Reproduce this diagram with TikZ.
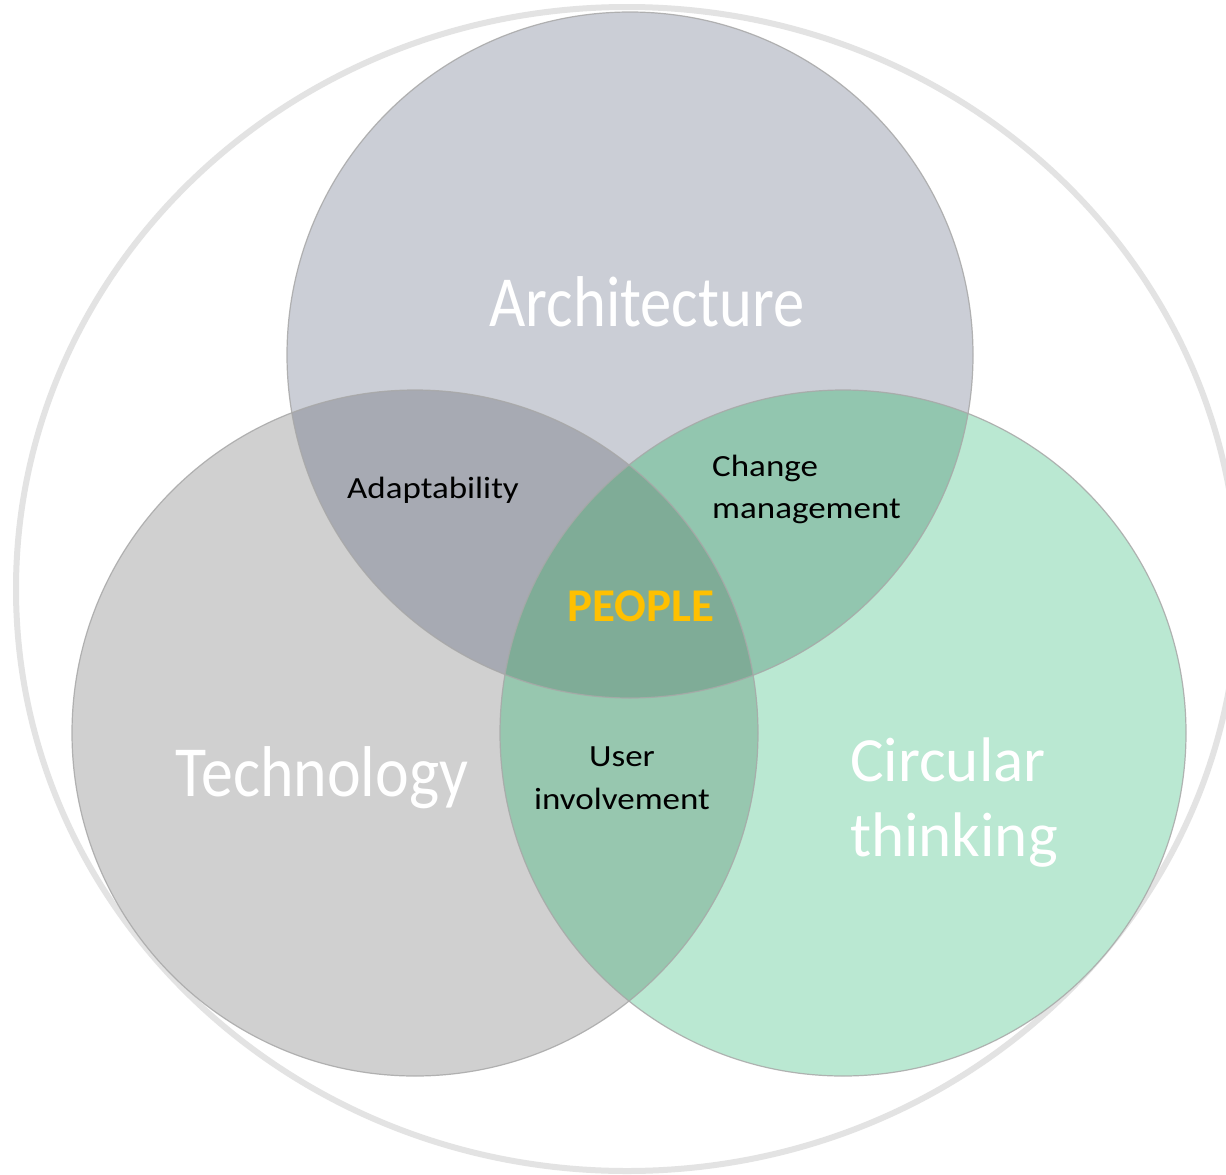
\documentclass[tikz,border=0pt]{standalone}
\usepackage{fontspec}
\setmainfont{Carlito}
\usepackage{graphicx}
\definecolor{ringcol}{HTML}{E3E3E3}
\definecolor{colA}{HTML}{CBCED6}
\definecolor{colT}{HTML}{D0D0D0}
\definecolor{colC}{HTML}{BAE8D2}
\definecolor{colAT}{HTML}{A7AAB3}
\definecolor{colAC}{HTML}{92C6AF}
\definecolor{colTC}{HTML}{97C7AF}
\definecolor{colATC}{HTML}{7FAC97}
\definecolor{edgecol}{HTML}{A8A8A8}
\definecolor{gold}{HTML}{FFC000}
\tikzset{
  ring/.style={draw=ringcol, line width=6pt},
  venn/.style={draw=edgecol, draw opacity=0.85, line width=1.2pt},
  bigtext/.style={text=white, font=\fontsize{62}{75}\selectfont, inner sep=0pt},
  circtext/.style={text=white, font=\fontsize{63}{75}\selectfont, inner sep=0pt},
  smalltext/.style={text=black, font=\fontsize{35}{41}\selectfont, inner sep=0pt},
  peopletext/.style={text=gold, font=\bfseries\fontsize{47}{55}\selectfont, inner sep=0pt}
}
\begin{document}
\begin{tikzpicture}[x=1pt,y=-1pt]
\useasboundingbox (0,0) rectangle (1226,1175);
\fill[white] (0,0) rectangle (1226,1175);
\coordinate (cO) at (627,589);
\coordinate (cA) at (630,355);
\coordinate (cT) at (415,733);
\coordinate (cC) at (843,733);
% outer ring
\draw[ring] (cO) ellipse [x radius=611pt, y radius=582pt];
% base circles
\fill[colA] (cA) circle[radius=343pt];
\fill[colT] (cT) circle[radius=343pt];
\fill[colC] (cC) circle[radius=343pt];
% pairwise overlaps
\begin{scope}
  \clip (cA) circle[radius=343pt];
  \fill[colAT] (cT) circle[radius=343pt];
  \fill[colAC] (cC) circle[radius=343pt];
\end{scope}
\begin{scope}
  \clip (cT) circle[radius=343pt];
  \fill[colTC] (cC) circle[radius=343pt];
\end{scope}
% triple overlap
\begin{scope}
  \clip (cA) circle[radius=343pt];
  \clip (cT) circle[radius=343pt];
  \fill[colATC] (cC) circle[radius=343pt];
\end{scope}
% outlines
\draw[venn] (cA) circle[radius=343pt];
\draw[venn] (cT) circle[radius=343pt];
\draw[venn] (cC) circle[radius=343pt];
% labels
\node[bigtext, anchor=base] (arch) at (647,326) {\scalebox{1.01}[1.16]{Architecture}};
\node[bigtext, anchor=base] (tech) at (322,796) {\scalebox{1.03}[1.16]{Technology}};
\node[circtext, anchor=base west] (circ1) at (850,781.7) {Circular};
\node[circtext, anchor=base west] (circ2) at (850,856.7) {thinking};
\node[smalltext, anchor=base] (adapt) at (433,498) {\scalebox{1}[0.88]{Adaptability}};
\node[smalltext, anchor=base west] (chg1) at (712,476.7) {\scalebox{1}[0.88]{Change}};
\node[smalltext, anchor=base west] (chg2) at (712,518) {\scalebox{1}[0.88]{management}};
\node[smalltext, anchor=base] (usr1) at (622,766.7) {\scalebox{1}[0.88]{User}};
\node[smalltext, anchor=base] (usr2) at (622,809) {\scalebox{1}[0.88]{involvement}};
\node[peopletext, anchor=base] (people) at (641,621.7) {PEOPLE};
\end{tikzpicture}
\end{document}
